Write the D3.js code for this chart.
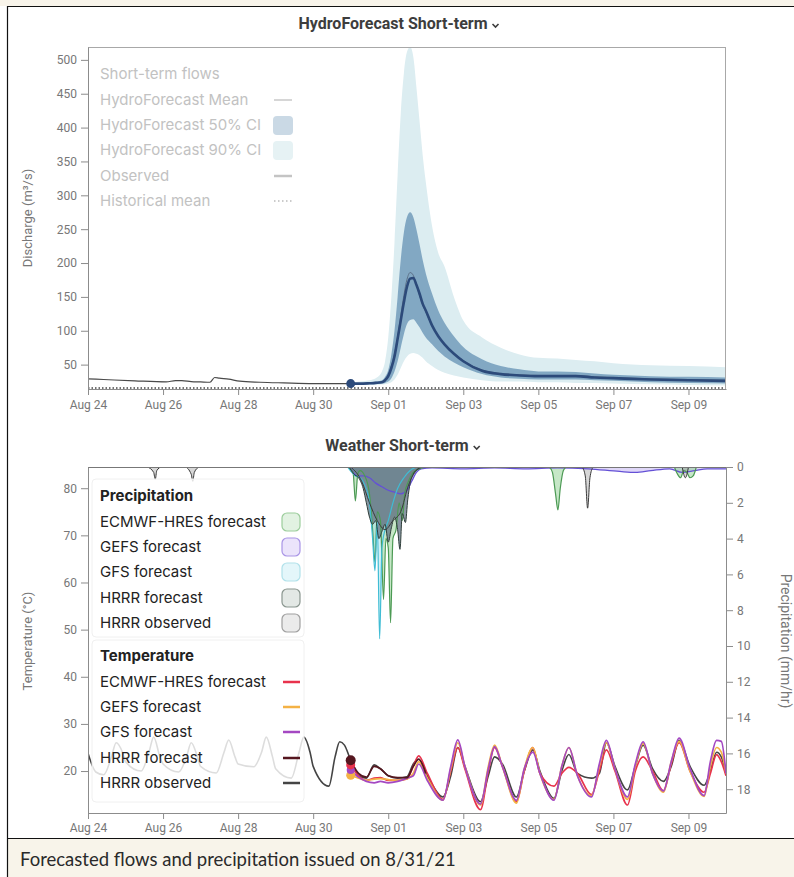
<!DOCTYPE html>
<html><head><meta charset="utf-8">
<script src="https://cdn.jsdelivr.net/npm/d3@7"></script>
<style>
html,body{margin:0;padding:0;background:#fff;}
svg{display:block;}
</style></head><body>
<svg id="chart" width="794" height="877"></svg>
<script>
// ---------------- DATA ----------------
const xTickDates = ["2021-08-24","2021-08-26","2021-08-28","2021-08-30","2021-09-01","2021-09-03","2021-09-05","2021-09-07","2021-09-09"];
const flowTicks = [50,100,150,200,250,300,350,400,450,500];
const tempTicks = [20,30,40,50,60,70,80];
const precipTicks = [0,2,4,6,8,10,12,14,16,18];

// Observed discharge, hours since Aug 24 00:00
const obsFlowHours = [0, 10, 30, 50, 56, 60, 66, 72, 78, 81, 84, 90, 97, 110, 125, 144, 160, 168];
const obsFlow      = [29, 28, 26, 24.5, 26.5, 26.5, 25, 24.5, 24, 31, 30, 28.5, 25.5, 24, 23, 22, 22, 22];
// Historical mean discharge (hours since Aug 24)
const histHours = [0, 408];
const histMean  = [15.5, 15.5];

// HydroForecast, hours since Aug 31 00:00
const flowHours = [0,6,12,16,20,22,24,26,28,30,32,34,36,38,40,42,44,46,48,52,56,60,66,72,84,96,108,120,132,144,156,168,192,216,240];
const flowMedian = [22,22,22.5,23,24,27,33,45,62,88,115,142,165,177,178,168,155,140,130,108,92,80,66,55,41,36,34,33,33,33,31,30,28,27,26];
const flowMean   = [22,22,22.5,23,24.5,28,35,48,66,92,122,152,176,186,182,168,152,138,128,107,92,80,67,56,42,37,35,34,34,34,32,31,29,28,27];
const ci50Low  = [21,21,21,21.5,22,23,25,30,40,55,75,95,110,116,117,112,105,97,90,80,70,62,53,46,36,31,29,28,28,28,27,26,24,23,22];
const ci50High = [23,23,24,25,27,32,42,65,100,150,205,245,268,275,268,250,228,205,185,155,130,112,92,76,58,48,43,40,40,39,37,35,33,32,31];
const ci90Low  = [20,20,20,20,20.5,21,22,24,28,35,45,55,62,66,67,66,64,60,55,48,42,38,34,31,27,25,25,24,24,23,23,22,21,20,19];
const ci90High = [24,25,27,30,40,55,90,150,230,330,420,480,512,519,505,460,410,360,320,255,215,195,150,115,90,75,65,60,59,57,55,52,49,48,46];

// Temperature (°C); HRRR observed, hours since Aug 24 00:00
const obsTempHours = [0,5,10,15,18,22,24,34,39,42,46,48,58,63,66,70,72,82,87,90,94,96,106,111,114,118,120,130,135,138,142,144,154,158,161,164,
  168,173,178,183,187,192,198,204,208,211.5,217,227,232,236.5,241,251,256,260,265,274,279,284.5,289,298,303,307.5,313,322,327,331.5,337,345,350,355,361,368,373,378,385,394,398,402,405,408];
const obsTemp = [23.8,19.8,19.2,23,26,24,22,20,24,27.2,23,21.5,19.8,23,26,23,21,19.6,24,26.6,23,21.5,20.9,24,27.2,23,20.5,18.5,24,27.2,24,21,16.8,23,26.2,25.5,
  22.3,19,18.5,21.3,20.5,19,18.5,18.8,21.5,22.5,19,14.5,19,25,21,13.5,19,23,21.5,14.5,20,24.5,20,14.2,20,23.5,19.5,18.5,19.5,26,21,16,21,25.5,20.5,17.8,21,26.5,21,17,20,24,23,19.5];

// Forecast temperatures, hours since Aug 31 00:00
const fcTempHours = [0,5,10,15,19,24,30,36,40,43.5,49,59,64,68.5,73,83,88,92,97,106,111,116.5,121,130,135,139.5,145,154,159,163.5,169,177,182,187,193,200,205,210,217,226,230,234,237,240];
const ecmwfTemp = [21.3,19,18,18.5,18.6,18,18,18.3,21,23.2,19.5,14,20,25,20.5,11.8,20,25,21,13.5,20,25,19.5,16.8,19.5,20.8,19.5,15,20,24.5,20,12.8,20,23,20,15.8,21.5,26,20,15.5,19.5,23.5,22,19];
const gefsTemp  = [19.1,18.5,18,18.3,18.4,18.2,18,18.3,19.5,22,18.5,13.8,20.5,26,21,12.8,21,25.5,21,13.2,20.5,25,19.5,14,21,25,19,14.8,21,26,20.5,14,21,25.8,19.5,15.5,22,26.3,20,14.6,21,25,24,19.5];
const gfsTemp   = [20.2,18.7,17.8,17.5,17.8,17.5,17.8,18.5,19,21.5,18,13.8,21,26.6,21,13,20.5,25.2,21,13.8,20.5,24,19.5,13.8,21,25,19,14.5,21.5,26.5,20.5,14.5,21.5,26.2,19.5,15.8,22,27,20.5,14.8,22,26.5,26.3,19.5];
const hrrrFcTempHours = [0,5,10,15,19,24,30,36,40,43.5,48];
const hrrrFcTemp = [22.3,19.5,18.7,21,20.5,19,18.6,18.6,21,22.5,19.5];

// Precipitation (mm/hr), [hours since Aug 24 00:00, value]
const ecmwfPrecip = [[166,0],[169.5,0.3],[171,1.9],[172.5,0.4],[174,0.2],[177,0.5],[180,1.5],[182,3.5],[183.5,5.3],[185,2.5],[187,3],[189,7.4],[190.5,4],[192,4.5],[193.5,8.7],[195,4],[197,3.5],[199,2],[201,3],[202.5,1.5],[205,0.8],[208,0.3],[212,0.1],[216,0],
  [295,0],[297,0.3],[299,1.5],[300.5,2.4],[302,1.2],[304,0.2],[306,0],[375,0],[377,0.4],[379,0.6],[381,0.2],[383,0.3],[385,0.6],[387,0.5],[389,0]];
const gefsPrecip = [[166,0],[168,0.1],[172,0.5],[176,0.5],[180,0.6],[184,0.9],[188,1.1],[192,1.3],[196,1.4],[200,1.5],[204,1.3],[207,0.8],[210,0.3],[213,0.1],[220,0.05],[240,0.1],[260,0.05],[280,0.1],[300,0.05],[320,0.1],[340,0.25],[350,0.3],[360,0.2],[372,0.1],[380,0.3],[388,0.2],[396,0.1],[408,0.1]];
const gfsPrecip = [[166,0],[171,0.5],[174,0.6],[177,1],[180,2],[182,4],[183.5,5.8],[185,3],[186.5,9.6],[188,4.5],[190,3.5],[192,3],[195,2],[198,1.2],[202,0.6],[206,0.2],[210,0]];
const hrrrFcPrecip = [[167,0],[170,0.4],[173,0.6],[176,1.2],[178,2],[180,2.8],[182,3.2],[184,3],[186,4],[188,3.6],[190,3.2],[192,4.2],[194,3.4],[196,2.8],[198,3.5],[199.5,4.6],[201,2.6],[203,3.1],[204.5,1.8],[206,0.9],[208,0.4],[211,0.1],[214,0]];
const hrrrObsPrecip = [[38,0],[42,0.3],[43,0.7],[44,0.2],[47,0],[62,0],[66,0.4],[67,0.8],[68,0.3],[71,0],
  [168,0],[175,0.8],[180,2],[185,3],[190,3.5],[195,3],[200,2.5],[205,1],[210,0.2],[214,0],
  [316,0],[318,0.5],[319.5,2.3],[321,0.6],[323,0],[380,0],[382,0.6],[384,0]];

const flowLegend = ["Short-term flows","HydroForecast Mean","HydroForecast 50% CI","HydroForecast 90% CI","Observed","Historical mean"];
const precipLegend = ["ECMWF-HRES forecast","GEFS forecast","GFS forecast","HRRR forecast","HRRR observed"];
const tempLegend = ["ECMWF-HRES forecast","GEFS forecast","GFS forecast","HRRR forecast","HRRR observed"];

// ---------------- DRAW ----------------
const W = 794, H = 877;
const svg = d3.select("#chart");
const FONT = "Roboto, 'Noto Sans', sans-serif";
const LFONT = "Inter, 'Noto Sans', sans-serif";

svg.append("rect").attr("width", W).attr("height", H).attr("fill", "#fff");
svg.append("rect").attr("x", 0).attr("y", 0).attr("width", W).attr("height", 6).attr("fill", "#f8f4ea");
svg.append("rect").attr("x", 8).attr("y", 839).attr("width", W - 8).attr("height", H - 839).attr("fill", "#f8f4ea");
svg.append("line").attr("x1", 7).attr("x2", W).attr("y1", 6.5).attr("y2", 6.5).attr("stroke", "#111").attr("stroke-width", 1.2);
svg.append("line").attr("x1", 7.5).attr("x2", 7.5).attr("y1", 6).attr("y2", H).attr("stroke", "#111").attr("stroke-width", 1.2);
svg.append("line").attr("x1", 7).attr("x2", W).attr("y1", 838.5).attr("y2", 838.5).attr("stroke", "#111").attr("stroke-width", 1.2);
svg.append("text").attr("x", 20).attr("y", 866).text("Forecasted flows and precipitation issued on 8/31/21")
  .attr("font-family", "Lato, 'Noto Sans', sans-serif").attr("font-size", 18.5).attr("fill", "#2a2a2a");

const base = new Date(2021, 7, 24);
const fcStart = new Date(2021, 7, 31);
const atH = (b, h) => new Date(b.getTime() + h * 3600e3);
const parseDay = d3.timeParse("%Y-%m-%d");

const x = d3.scaleTime().domain([base, new Date(2021, 8, 10)]).range([88, 726]);
const yQ = d3.scaleLinear().domain([14, 519]).range([389, 47]);
const yT = d3.scaleLinear().domain([11.1, 84.5]).range([813, 467]);
const yP = d3.scaleLinear().domain([0, 19.33]).range([467, 813]);

function styleAxis(g) {
  g.attr("font-family", FONT).attr("font-size", 12);
  g.select(".domain").attr("stroke", "#8c8c8c");
  g.selectAll(".tick line").attr("stroke", "#8c8c8c");
  g.selectAll(".tick text").attr("fill", "#777");
}
function drawTitle(txt, cx, y) {
  const t = svg.append("text").attr("y", y).text(txt).attr("font-family", FONT)
    .attr("font-weight", 700).attr("font-size", 16).attr("fill", "#3d3d3d");
  const w = t.node().getComputedTextLength();
  const x0 = cx - (w + 12) / 2;
  t.attr("x", x0);
  const c = x0 + w + 8;
  svg.append("path").attr("d", `M${c - 3},${y - 5} L${c},${y - 2} L${c + 3},${y - 5}`)
    .attr("fill", "none").attr("stroke", "#3d3d3d").attr("stroke-width", 1.6);
}

// ---- Top chart ----
drawTitle("HydroForecast Short-term", 399, 29);
const defs = svg.append("defs");
defs.append("clipPath").attr("id", "clipTop").append("rect").attr("x", 88).attr("y", 47).attr("width", 638).attr("height", 342);
defs.append("clipPath").attr("id", "clipBot").append("rect").attr("x", 88).attr("y", 467).attr("width", 638).attr("height", 346);

const topG = svg.append("g").attr("clip-path", "url(#clipTop)");
const fr = flowHours.map((h, i) => ({ d: atH(fcStart, h), m: flowMedian[i], mn: flowMean[i], l5: ci50Low[i], h5: ci50High[i], l9: ci90Low[i], h9: ci90High[i] }));
topG.append("path").datum(fr).attr("fill", "#dcedf1")
  .attr("d", d3.area().x(d => x(d.d)).y0(d => yQ(d.l9)).y1(d => yQ(d.h9)).curve(d3.curveMonotoneX));
topG.append("path").datum(fr).attr("fill", "#82a8c3")
  .attr("d", d3.area().x(d => x(d.d)).y0(d => yQ(d.l5)).y1(d => yQ(d.h5)).curve(d3.curveMonotoneX));
topG.append("path").datum(histHours.map((h, i) => ({ d: atH(base, h), v: histMean[i] })))
  .attr("fill", "none").attr("stroke", "#444").attr("stroke-width", 1.5).attr("stroke-dasharray", "1.5,2")
  .attr("d", d3.line().x(d => x(d.d)).y(d => yQ(d.v)));
topG.append("path").datum(obsFlowHours.map((h, i) => ({ d: atH(base, h), v: obsFlow[i] })))
  .attr("fill", "none").attr("stroke", "#4a4a4a").attr("stroke-width", 1.2)
  .attr("d", d3.line().x(d => x(d.d)).y(d => yQ(d.v)).curve(d3.curveMonotoneX));
topG.append("path").datum(fr).attr("fill", "none").attr("stroke", "#5d7088").attr("stroke-width", 1)
  .attr("d", d3.line().x(d => x(d.d)).y(d => yQ(d.mn)).curve(d3.curveMonotoneX));
topG.append("path").datum(fr).attr("fill", "none").attr("stroke", "#2c4a7a").attr("stroke-width", 2.6)
  .attr("d", d3.line().x(d => x(d.d)).y(d => yQ(d.m)).curve(d3.curveMonotoneX));
svg.append("circle").attr("cx", x(fcStart)).attr("cy", yQ(flowMedian[0])).attr("r", 4.5).attr("fill", "#2c4a7a");

// frame lines
svg.append("line").attr("x1", 88).attr("x2", 726).attr("y1", 47.5).attr("y2", 47.5).attr("stroke", "#a8a8a8");
svg.append("line").attr("x1", 725.5).attr("x2", 725.5).attr("y1", 47).attr("y2", 389).attr("stroke", "#a8a8a8");

const xTicks = xTickDates.map(parseDay);
svg.append("g").attr("transform", "translate(0,389)")
  .call(d3.axisBottom(x).tickValues(xTicks).tickFormat(d3.timeFormat("%b %d")).tickSize(6).tickPadding(5).tickSizeOuter(0)).call(styleAxis);
svg.append("g").attr("transform", "translate(88,0)")
  .call(d3.axisLeft(yQ).tickValues(flowTicks).tickSize(7).tickPadding(4).tickSizeOuter(0)).call(styleAxis);
svg.append("text").attr("transform", "translate(32,218) rotate(-90)").attr("text-anchor", "middle")
  .text("Discharge (m³/s)").attr("font-family", FONT).attr("font-size", 13).attr("fill", "#777");

// top legend
const lgTop = svg.append("g").attr("font-family", LFONT).attr("font-size", 15).attr("fill", "#c2c2c2");
const lgY = [74, 100, 125, 150, 176, 201];
flowLegend.forEach((s, i) => lgTop.append("text").attr("x", 100).attr("y", lgY[i] + 5).text(s));
lgTop.append("line").attr("x1", 274).attr("x2", 292).attr("y1", lgY[1]).attr("y2", lgY[1]).attr("stroke", "#c8c8c8").attr("stroke-width", 1.5);
lgTop.append("rect").attr("x", 273).attr("y", lgY[2] - 9).attr("width", 20).attr("height", 19).attr("rx", 4).attr("fill", "#cad9e5");
lgTop.append("rect").attr("x", 273).attr("y", lgY[3] - 9).attr("width", 20).attr("height", 19).attr("rx", 4).attr("fill", "#e6f2f4");
lgTop.append("line").attr("x1", 274).attr("x2", 292).attr("y1", lgY[4]).attr("y2", lgY[4]).attr("stroke", "#c4c4c4").attr("stroke-width", 2.5);
lgTop.append("line").attr("x1", 274).attr("x2", 292).attr("y1", lgY[5]).attr("y2", lgY[5]).attr("stroke", "#bbb").attr("stroke-width", 1.5).attr("stroke-dasharray", "1.5,2.5");

// ---- Bottom chart ----
drawTitle("Weather Short-term", 403, 451);
const botG = svg.append("g").attr("clip-path", "url(#clipBot)");
const pArea = d3.area().x(d => x(atH(base, d[0]))).y0(yP(0)).y1(d => yP(d[1])).curve(d3.curveMonotoneX);
const pLine = d3.line().x(d => x(atH(base, d[0]))).y(d => yP(d[1])).curve(d3.curveMonotoneX);
function splitRuns(arr) { // separate events where the gap between points is large
  const runs = []; let cur = [];
  arr.forEach((p, i) => { if (i > 0 && p[0] - arr[i - 1][0] > 30) { runs.push(cur); cur = []; } cur.push(p); });
  runs.push(cur); return runs;
}
const precipStyles = [
  { data: gefsPrecip, fill: "#b7a6f0", fo: 0.45, stroke: "#6450d6", sw: 1.3 },
  { data: ecmwfPrecip, fill: "#8dcf8f", fo: 0.5, stroke: "#4c9a54", sw: 1.2 },
  { data: gfsPrecip, fill: "#a5e2ee", fo: 0.5, stroke: "#3fbcd4", sw: 1.2 },
  { data: hrrrObsPrecip, fill: "#9a9a9a", fo: 0.4, stroke: "#3a3a3a", sw: 1 },
  { data: hrrrFcPrecip, fill: "#5b6f80", fo: 0.72, stroke: "#2f3e3a", sw: 1 }
];
precipStyles.forEach(s => {
  splitRuns(s.data).forEach(run => {
    botG.append("path").datum(run).attr("fill", s.fill).attr("fill-opacity", s.fo).attr("d", pArea);
  });
});
precipStyles.forEach(s => {
  splitRuns(s.data).forEach(run => {
    botG.append("path").datum(run).attr("fill", "none").attr("stroke", s.stroke).attr("stroke-width", s.sw).attr("d", pLine);
  });
});

const tLine = d3.line().x(d => x(d.d)).y(d => yT(d.v)).curve(d3.curveMonotoneX);
botG.append("path").datum(obsTempHours.map((h, i) => ({ d: atH(base, h), v: obsTemp[i] })))
  .attr("fill", "none").attr("stroke", "#444").attr("stroke-width", 1.6).attr("d", tLine);
const fcSeries = [
  { v: ecmwfTemp, c: "#e8324c" },
  { v: gefsTemp, c: "#f4b245" },
  { v: gfsTemp, c: "#a448c2" }
];
fcSeries.forEach(s => {
  botG.append("path").datum(fcTempHours.map((h, i) => ({ d: atH(fcStart, h), v: s.v[i] })))
    .attr("fill", "none").attr("stroke", s.c).attr("stroke-width", 1.7).attr("d", tLine);
});
botG.append("path").datum(hrrrFcTempHours.map((h, i) => ({ d: atH(fcStart, h), v: hrrrFcTemp[i] })))
  .attr("fill", "none").attr("stroke", "#55161f").attr("stroke-width", 1.7).attr("d", tLine);
[[gefsTemp[0], "#f4b245", 4.5], [gfsTemp[0], "#a448c2", 4], [ecmwfTemp[0], "#e8324c", 4.5], [hrrrFcTemp[0], "#55161f", 5]].forEach(p => {
  svg.append("circle").attr("cx", x(fcStart)).attr("cy", yT(p[0])).attr("r", p[2]).attr("fill", p[1]);
});

// axes bottom chart
svg.append("line").attr("x1", 88).attr("x2", 726).attr("y1", 467.5).attr("y2", 467.5).attr("stroke", "#777");
svg.append("g").attr("transform", "translate(0,813)")
  .call(d3.axisBottom(x).tickValues(xTicks).tickFormat(d3.timeFormat("%b %d")).tickSize(6).tickPadding(4).tickSizeOuter(0)).call(styleAxis);
svg.append("g").attr("transform", "translate(88,0)")
  .call(d3.axisLeft(yT).tickValues(tempTicks).tickSize(7).tickPadding(4).tickSizeOuter(0)).call(styleAxis);
svg.append("g").attr("transform", "translate(726,0)")
  .call(d3.axisRight(yP).tickValues(precipTicks).tickSize(7).tickPadding(4).tickSizeOuter(0)).call(styleAxis);
svg.append("text").attr("transform", "translate(32,641) rotate(-90)").attr("text-anchor", "middle")
  .text("Temperature (°C)").attr("font-family", FONT).attr("font-size", 13).attr("fill", "#777");
svg.append("text").attr("transform", "translate(781,641) rotate(90)").attr("text-anchor", "middle")
  .text("Precipitation (mm/hr)").attr("font-family", FONT).attr("font-size", 14).attr("fill", "#777");

// bottom legend
const lg = svg.append("g").attr("font-family", LFONT).attr("font-size", 15).attr("fill", "#222");
lg.append("rect").attr("x", 92).attr("y", 479).attr("width", 212).attr("height", 158).attr("rx", 4)
  .attr("fill", "#fff").attr("fill-opacity", 0.82).attr("stroke", "#f0f0f0");
lg.append("rect").attr("x", 92).attr("y", 640).attr("width", 212).attr("height", 162).attr("rx", 4)
  .attr("fill", "#fff").attr("fill-opacity", 0.82).attr("stroke", "#f0f0f0");
lg.append("text").attr("x", 100).attr("y", 501).text("Precipitation").attr("font-weight", 700);
lg.append("text").attr("x", 100).attr("y", 661).text("Temperature").attr("font-weight", 700);
const pY = [522, 547, 572, 598, 623];
const pSw = [["#e2f2e2", "#9ccd9c"], ["#ebe4fb", "#a995e6"], ["#e4f6fa", "#b1e1ea"], ["#e3e8e5", "#8a968f"], ["#ebebeb", "#a0a0a0"]];
precipLegend.forEach((s, i) => {
  lg.append("text").attr("x", 100).attr("y", pY[i] + 5).text(s);
  lg.append("rect").attr("x", 282).attr("y", pY[i] - 9).attr("width", 18).attr("height", 18).attr("rx", 5)
    .attr("fill", pSw[i][0]).attr("stroke", pSw[i][1]).attr("stroke-width", 1.2);
});
const tY = [682, 707, 732, 758, 783];
const tSw = ["#e8324c", "#f4b245", "#a448c2", "#55161f", "#444"];
tempLegend.forEach((s, i) => {
  lg.append("text").attr("x", 100).attr("y", tY[i] + 5).text(s);
  lg.append("line").attr("x1", 283).attr("x2", 300).attr("y1", tY[i]).attr("y2", tY[i]).attr("stroke", tSw[i]).attr("stroke-width", 2.5);
});
</script></body></html>
